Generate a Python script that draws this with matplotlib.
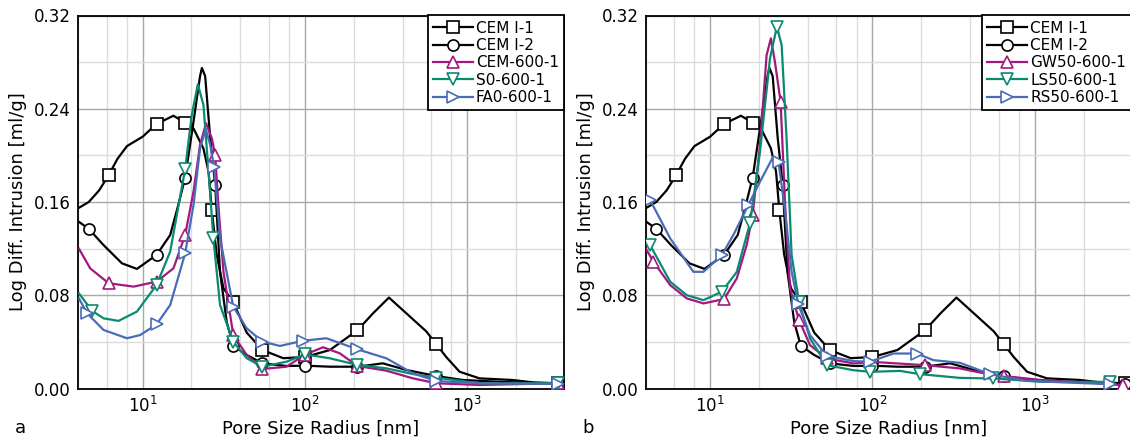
import matplotlib
matplotlib.use("Agg")
import matplotlib.pyplot as plt
from matplotlib.ticker import LogLocator, MultipleLocator, NullFormatter

# ---------------- data: pore radius [nm] and log differential intrusion [ml/g]
cem1_r = [4.05, 4.66, 5.4, 6.18, 7.0, 8.02, 10.0, 12.2, 15.5, 18.3, 20.6, 23.7, 25.5, 26.7,
          28.6, 31.5, 36.2, 43.8, 54.7, 73.6, 100, 142.6, 210.9, 263, 329.6, 441.6,
          559.8, 645.7, 743, 897.5, 1191, 1905, 2529, 3606]
cem1_v = [0.155, 0.160, 0.170, 0.183, 0.197, 0.208, 0.216, 0.227, 0.234, 0.228, 0.223, 0.206, 0.186, 0.153,
          0.115, 0.086, 0.074, 0.048, 0.033, 0.026, 0.027, 0.033, 0.050, 0.0645, 0.078, 0.062,
          0.049, 0.038, 0.027, 0.0144, 0.0087, 0.0073, 0.0053, 0.0045]
cem1_mk = [3, 7, 9, 13, 16, 18, 20, 22, 27, 33]

cem2_r = [4.05, 4.66, 5.75, 7.46, 9.23, 12.2, 14.8, 16.6, 18.3, 20.6, 22.6, 23.2,
          24.3, 26.1, 28.0, 30.0, 33.0, 36.2, 43.8, 54.7, 77.1, 100, 142.6, 210.9,
          302, 421.7, 645.7, 939.7, 1507, 3606]
cem2_v = [0.143, 0.137, 0.123, 0.1074, 0.1026, 0.1146, 0.1317, 0.1575, 0.181, 0.229, 0.268, 0.275,
          0.268, 0.215, 0.175, 0.100, 0.057, 0.0367, 0.0288, 0.0216, 0.0193, 0.0196, 0.0187, 0.0187,
          0.0216, 0.0159, 0.0107, 0.0073, 0.0059, 0.0039]
cem2_mk = [1, 5, 8, 14, 17, 19, 21, 23, 26, 29]

cem600_r = [4.05, 4.76, 6.18, 8.81, 12.2, 15.5, 18.3, 20.6, 22.6, 24.6, 26.7, 28.0,
            29.3, 31.5, 36.2, 43.8, 54.7, 77.1, 100, 129.4, 164, 210.9, 317.7, 463.4,
            645.7, 1191, 3606]
cem600_v = [0.120, 0.103, 0.0903, 0.0874, 0.0917, 0.1031, 0.1317, 0.169, 0.209, 0.2276, 0.2147, 0.2004,
            0.1575, 0.1003, 0.046, 0.0288, 0.0167, 0.0187, 0.029, 0.0354, 0.0302, 0.0193, 0.0153, 0.0087,
            0.0045, 0.003, 0.0045]
cem600_mk = [2, 4, 6, 11, 14, 16, 18, 21, 24, 26]

s0_r = [4.05, 4.89, 5.75, 7.11, 9.23, 12.2, 14.8, 18.3, 20.1, 21.9, 23.7, 25.5,
        27.3, 30.0, 36.2, 43.8, 54.7, 77.1, 100, 142.6, 210.9, 317.7, 463.4, 645.7,
        1191, 3606]
s0_v = [0.0817, 0.0665, 0.0602, 0.058, 0.066, 0.0889, 0.1175, 0.1884, 0.2348, 0.261, 0.2434, 0.186,
        0.129, 0.0717, 0.0402, 0.026, 0.0187, 0.023, 0.0293, 0.0259, 0.0202, 0.0173, 0.0124, 0.0093,
        0.0045, 0.0045]
s0_mk = [1, 5, 7, 12, 14, 16, 18, 20, 23, 25]

fa0_r = [4.05, 4.55, 5.75, 8.02, 9.68, 12.2, 14.8, 18.3, 20.6, 22.6, 24.5, 26.1,
         27.6, 30.0, 36.2, 43.8, 54.7, 70.2, 97.7, 135.8, 210.9, 317.7, 463.4, 645.7,
         1191, 3606]
fa0_v = [0.0774, 0.0645, 0.0502, 0.0431, 0.0459, 0.055, 0.0717, 0.116, 0.1575, 0.206, 0.2227, 0.209,
         0.1898, 0.129, 0.0702, 0.0517, 0.0402, 0.0365, 0.041, 0.0431, 0.0336, 0.0259, 0.013, 0.0064,
         0.0045, 0.0039]
fa0_mk = [1, 5, 7, 12, 14, 16, 18, 20, 23, 25]

gw50_r = [4.02, 4.48, 5.68, 7.18, 9.10, 12.2, 14.6, 16.8, 18.3, 20.3, 22.3, 23.7,
          25.1, 27.2, 29.0, 31.1, 35.3, 41.3, 52.4, 76.4, 101, 211, 347, 557,
          650, 1132, 2291, 3508]
gw50_v = [0.120, 0.1087, 0.0887, 0.0773, 0.073, 0.0767, 0.0944, 0.123, 0.1488, 0.2089, 0.286, 0.3004,
          0.280, 0.246, 0.157, 0.0858, 0.0587, 0.0372, 0.0258, 0.0215, 0.0228, 0.020, 0.0172, 0.0114,
          0.0106, 0.0071, 0.0048, 0.0028]
gw50_mk = [1, 5, 8, 13, 16, 18, 21, 24, 27]

ls50_r = [4.02, 4.27, 5.68, 7.18, 9.10, 11.8, 14.6, 17.6, 20.3, 23.4, 25.8, 27.6,
          29.6, 31.8, 35.3, 41.3, 52.4, 76.4, 96.8, 148, 197, 347, 557, 1132, 2911]
ls50_v = [0.1259, 0.123, 0.0916, 0.0801, 0.0758, 0.083, 0.100, 0.1416, 0.203, 0.2833, 0.3104, 0.2947,
          0.2146, 0.1144, 0.0744, 0.0429, 0.020, 0.0157, 0.0143, 0.0151, 0.0123, 0.0091, 0.0086, 0.0057,
          0.0057]
ls50_mk = [1, 5, 7, 10, 14, 16, 18, 20, 22, 24]

rs50_r = [4.02, 4.27, 5.68, 7.89, 9.10, 11.8, 13.9, 17.2, 20.3, 24.5, 26.4, 29.0,
          31.8, 35.0, 41.3, 52.4, 76.4, 96.8, 135, 188, 238, 347, 531, 893, 2911]
rs50_v = [0.166, 0.1617, 0.1288, 0.1001, 0.1001, 0.1144, 0.1316, 0.1574, 0.1774, 0.1989, 0.1946, 0.1516,
          0.1001, 0.0721, 0.0458, 0.028, 0.0235, 0.023, 0.030, 0.030, 0.0243, 0.022, 0.0123, 0.0065,
          0.0037]
rs50_mk = [1, 5, 7, 10, 13, 15, 17, 19, 22, 24]

# ---------------- styles
BLACK = "#000000"
PURPLE = "#a3187f"
TEAL = "#0a8a6e"
BLUE = "#4a6cb6"

series_a = [
    ("CEM I-1", cem1_r, cem1_v, cem1_mk, BLACK, "s"),
    ("CEM I-2", cem2_r, cem2_v, cem2_mk, BLACK, "o"),
    ("CEM-600-1", cem600_r, cem600_v, cem600_mk, PURPLE, "^"),
    ("S0-600-1", s0_r, s0_v, s0_mk, TEAL, "v"),
    ("FA0-600-1", fa0_r, fa0_v, fa0_mk, BLUE, ">"),
]
series_b = [
    ("CEM I-1", cem1_r, cem1_v, cem1_mk, BLACK, "s"),
    ("CEM I-2", cem2_r, cem2_v, cem2_mk, BLACK, "o"),
    ("GW50-600-1", gw50_r, gw50_v, gw50_mk, PURPLE, "^"),
    ("LS50-600-1", ls50_r, ls50_v, ls50_mk, TEAL, "v"),
    ("RS50-600-1", rs50_r, rs50_v, rs50_mk, BLUE, ">"),
]

plt.rcParams["font.family"] = ["DejaVu Sans"]

W, H = 1130, 441
fig = plt.figure(figsize=(W / 100, H / 100), dpi=100)

ax_w = 486 / W
ax_h = (388.5 - 15.5) / H
bottom = 1 - 388.5 / H
ax_a = fig.add_axes([78 / W, bottom, ax_w, ax_h])
ax_b = fig.add_axes([645.5 / W, bottom, ax_w, ax_h])


def draw(ax, series, tag, tag_x):
    for label, r, v, mk, color, marker in series:
        ax.plot(r, v, color=color, lw=1.6, marker=marker, markevery=mk,
                markersize=8, markerfacecolor="white", markeredgecolor=color,
                markeredgewidth=1.2, label=label, zorder=3)
    ax.set_xscale("log")
    ax.set_xlim(4, 3950)
    ax.set_ylim(0, 0.32)
    ax.yaxis.set_major_locator(MultipleLocator(0.08))
    ax.yaxis.set_minor_locator(MultipleLocator(0.04))
    ax.yaxis.set_major_formatter(plt.FuncFormatter(lambda y, _: f"{y:.2f}"))
    ax.xaxis.set_major_locator(LogLocator(base=10))
    ax.xaxis.set_minor_locator(LogLocator(base=10, subs=(2, 4, 6, 8)))
    ax.xaxis.set_minor_formatter(NullFormatter())
    ax.grid(True, which="major", color="#a8a8a8", lw=1.0, zorder=0)
    ax.grid(True, which="minor", color="#dcdcdc", lw=1.0, zorder=0)
    ax.set_axisbelow(True)
    ax.tick_params(which="both", direction="in", length=0, labelsize=12, pad=5)
    for s in ax.spines.values():
        s.set_linewidth(1.3)
        s.set_color("black")
    ax.set_xlabel("Pore Size Radius [nm]", fontsize=13, labelpad=3)
    ax.set_ylabel("Log Diff. Intrusion [ml/g]", fontsize=13, labelpad=5)
    leg = ax.legend(loc="upper right", fontsize=11, frameon=True, fancybox=False,
                    framealpha=1, edgecolor="black", borderaxespad=0,
                    handlelength=2.6, handletextpad=0.2, labelspacing=0.15,
                    borderpad=0.35)
    leg.get_frame().set_linewidth(1.3)
    fig.text(tag_x, 1 - 428 / H, tag, fontsize=13, ha="center", va="center")


draw(ax_a, series_a, "a", 20 / W)
draw(ax_b, series_b, "b", 588 / W)

fig.savefig("out.png", dpi=100)
